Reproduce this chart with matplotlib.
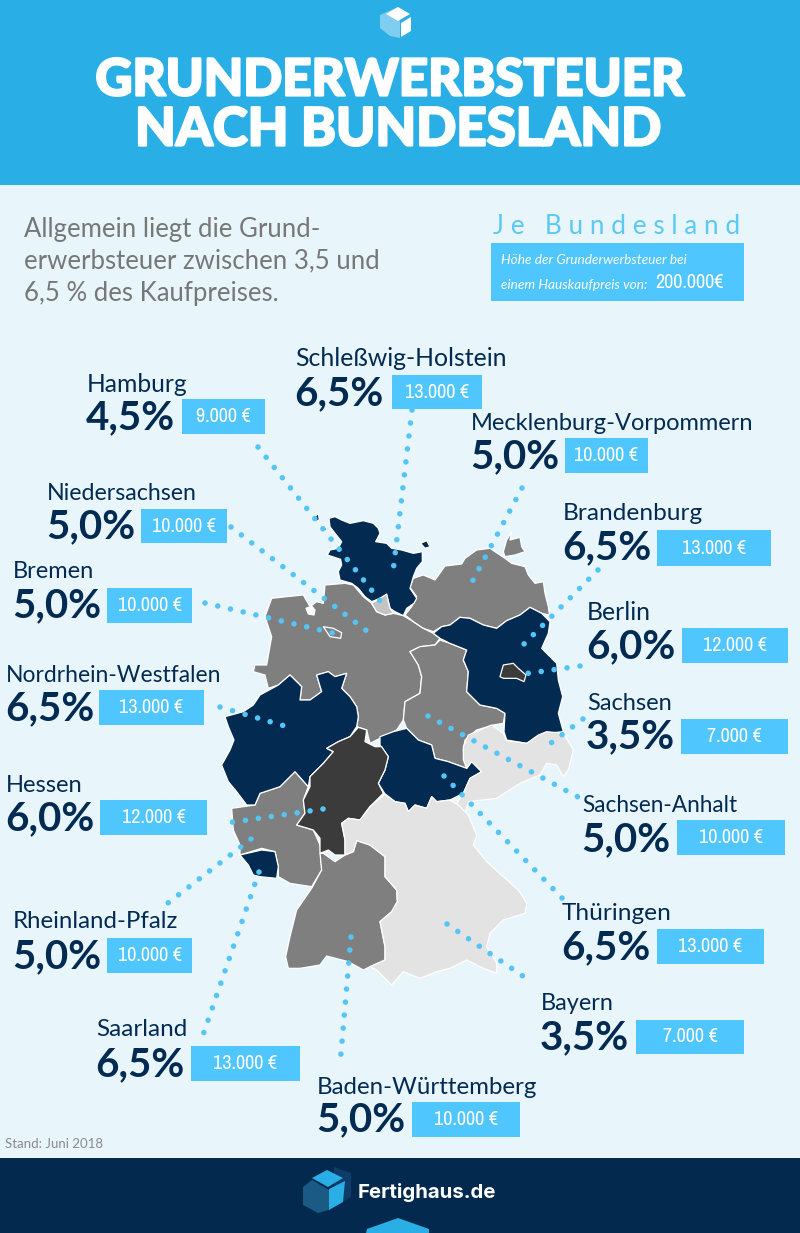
import matplotlib
matplotlib.use("Agg")
import matplotlib.pyplot as plt
import matplotlib.patheffects as pe
from matplotlib import font_manager
from matplotlib.patches import Polygon, Rectangle

plt.rcParams['font.family'] = ['Lato', 'DejaVu Sans']

NAVY = '#032b52'
GREY = '#7f7f7f'
DARK = '#3b3b3b'
LIGHT = '#e3e3e3'
BOX = '#4fc6fd'
DOT = '#55c5f7'

# a narrow face for the euro boxes, if there is one
narrow_names = sorted({f.name for f in font_manager.fontManager.ttflist
                       if 'Narrow' in f.name or 'Condensed' in f.name})
NARROW = narrow_names[0] if narrow_names else None
box_family = [NARROW, 'Lato'] if NARROW else ['Lato']
box_size = 14.5 if NARROW else 11.5

# values
states = ['Schleßwig-Holstein', 'Hamburg', 'Mecklenburg-Vorpommern', 'Niedersachsen',
          'Brandenburg', 'Bremen', 'Berlin', 'Nordrhein-Westfalen', 'Sachsen', 'Hessen',
          'Sachsen-Anhalt', 'Rheinland-Pfalz', 'Thüringen', 'Bayern', 'Saarland',
          'Baden-Württemberg']
rates = ['6,5%', '4,5%', '5,0%', '5,0%', '6,5%', '5,0%', '6,0%', '6,5%', '3,5%', '6,0%',
         '5,0%', '5,0%', '6,5%', '3,5%', '6,5%', '5,0%']
euros = ['13.000 €', '9.000 €', '10.000 €', '10.000 €', '13.000 €', '10.000 €', '12.000 €',
         '13.000 €', '7.000 €', '12.000 €', '10.000 €', '10.000 €', '13.000 €', '7.000 €',
         '13.000 €', '10.000 €']

# label layout: text x, name y, percent y, box left, box right, box top, box bottom
label_layout = [
    (295, 358, 392, 392, 482, 375, 409),
    (87, 384, 416, 182, 265, 399, 434),
    (471, 422, 455, 565, 648, 438, 473),
    (47, 492, 525, 141, 227, 509, 543),
    (563, 513, 546, 657, 771, 530, 566),
    (13, 571, 604, 107, 192, 588, 623),
    (587, 612, 645, 682, 788, 628, 663),
    (6, 675, 707, 99, 204, 690, 725),
    (587, 703, 735, 681, 788, 719, 754),
    (6, 785, 817, 100, 207, 800, 835),
    (582, 805, 838, 677, 785, 820, 855),
    (13, 921, 955, 107, 192, 938, 973),
    (562, 913, 946, 657, 764, 929, 964),
    (541, 1003, 1036, 636, 744, 1020, 1054),
    (96, 1029, 1063, 191, 300, 1046, 1081),
    (317, 1086, 1118, 412, 520, 1102, 1137),
]
# the original face runs a bit differently from Lato, so name widths are fitted one by one
name_sizes = [17.9, 17.7, 17.0, 16.7, 17.6, 17.0, 17.8, 16.5, 17.0, 17.1, 16.3, 17.3, 17.6,
              16.9, 17.5, 17.3]

# dotted leaders from the label to the state
leaders = [
    ((412, 410), (393, 572)), ((258, 447), (381, 602)), ((522, 488), (472, 582)),
    ((231, 527), (376, 638)), ((598, 570), (523, 645)), ((205, 603), (333, 633)),
    ((580, 666), (516, 675)), ((220, 707), (295, 729)), ((583, 719), (551, 743)),
    ((323, 809), (220, 824)), ((428, 716), (578, 797)), ((251, 839), (168, 903)),
    ((444, 776), (562, 898)), ((447, 924), (533, 983)), ((259, 872), (203, 1035)),
    ((351, 937), (340, 1065)),
]

# map outlines (3x coordinates, origin 210/500)
schleswig = [(357, 55), (375, 50), (395, 60), (420, 70), (460, 62), (490, 70), (505, 85), (510, 100),
             (497, 125), (530, 130), (545, 145), (575, 150), (610, 160), (637, 155), (637, 185),
             (620, 205), (610, 230), (600, 265), (620, 295), (612, 310), (590, 325), (580, 347),
             (555, 335), (540, 325), (530, 285), (510, 295), (485, 305), (465, 290), (445, 265),
             (425, 250), (390, 240), (385, 215), (395, 195), (392, 178), (352, 165),
             (360, 150), (385, 145), (395, 125), (375, 100), (360, 80)]
fehmarn = [(632, 130), (650, 122), (660, 140), (645, 145)]
sylt = [(315, 50), (325, 40), (328, 60), (315, 65)]
foehr = [(330, 80), (345, 78), (350, 92), (335, 92)]
mecklenburg = [(585, 345), (605, 320), (620, 290), (600, 262), (610, 235), (640, 225), (675, 240),
               (705, 198), (755, 192), (765, 175), (800, 150), (840, 145), (870, 165), (885, 175),
               (905, 190), (945, 200), (955, 225), (975, 250), (1000, 245), (1005, 280),
               (1015, 320), (1018, 345), (995, 340), (960, 322), (930, 345), (890, 362), (860, 385),
               (820, 375), (780, 355), (750, 352), (720, 375), (695, 380), (670, 395), (640, 385),
               (610, 365)]
ruegen = [(880, 155), (890, 120), (905, 95), (900, 120), (930, 112), (935, 140), (945, 155),
          (915, 165), (885, 170)]
brandenburg = [(670, 400), (695, 380), (720, 375), (750, 352), (780, 355), (820, 375), (860, 385),
               (890, 362), (930, 345), (960, 322), (995, 340), (1020, 365), (1015, 400), (995, 445),
               (1040, 490), (1045, 540), (1058, 590), (1045, 640), (1060, 695), (1010, 700),
               (985, 715), (950, 730), (890, 720), (882, 695), (885, 640), (860, 625), (810, 615),
               (770, 575), (775, 515), (760, 480), (770, 450), (720, 430), (690, 415)]
berlin = [(870, 530), (880, 495), (910, 490), (925, 505), (948, 525), (942, 545), (920, 535), (880, 535)]
hamburg = [(485, 310), (510, 295), (530, 282), (540, 325), (550, 340), (525, 345), (500, 335)]
bremen = [(340, 380), (370, 385), (395, 398), (392, 415), (360, 410)]
bremerhaven = [(288, 325), (305, 318), (315, 330), (312, 345), (295, 342)]
niedersachsen = [(345, 255), (405, 250), (430, 255), (460, 290), (485, 310), (500, 335), (525, 345),
                 (550, 340), (580, 347), (610, 365), (640, 385), (670, 400), (690, 415), (675, 435),
                 (630, 440), (600, 455), (625, 495), (635, 530), (630, 580), (585, 605), (580, 660),
                 (560, 690), (510, 715), (480, 730), (470, 690), (440, 680), (445, 650), (440, 620),
                 (420, 590), (395, 565), (410, 520), (375, 530), (355, 515), (320, 525), (335, 575),
                 (300, 600), (270, 600), (275, 560), (240, 525), (205, 555), (175, 565), (165, 525),
                 (130, 515), (135, 495), (170, 495), (185, 410), (165, 350), (185, 295), (230, 290),
                 (280, 285), (300, 320), (320, 305), (340, 310)]
sachsen_anhalt = [(690, 420), (720, 430), (770, 450), (760, 480), (775, 515), (770, 575), (810, 615),
                  (860, 625), (885, 640), (880, 670), (850, 675), (800, 690), (765, 720), (760, 750),
                  (770, 805), (715, 785), (675, 775), (665, 735), (625, 720), (590, 685), (580, 660),
                  (585, 605), (630, 580), (635, 530), (625, 495), (600, 455), (630, 440), (675, 435)]
thueringen = [(590, 685), (625, 720), (665, 735), (675, 775), (715, 785), (770, 805), (785, 785),
              (815, 815), (780, 835), (760, 880), (720, 900), (680, 905), (665, 890), (650, 925),
              (615, 915), (595, 935), (585, 910), (555, 905), (525, 882), (505, 850), (525, 810),
              (535, 770), (510, 735), (510, 710), (550, 695)]
sachsen = [(760, 740), (775, 705), (845, 675), (880, 700), (890, 722), (950, 730), (985, 705),
           (1010, 695), (1060, 700), (1090, 750), (1075, 810), (1060, 830), (1040, 795), (1010, 790),
           (990, 825), (930, 850), (860, 895), (775, 905), (765, 940), (740, 910), (760, 880),
           (780, 835), (815, 815), (785, 785), (770, 805), (760, 780)]
bayern = [(525, 882), (555, 905), (585, 910), (595, 935), (615, 915), (650, 925), (665, 890), (680, 905),
          (720, 900), (745, 915), (775, 945), (800, 1005), (790, 1035), (830, 1085), (880, 1130),
          (925, 1170), (950, 1210), (945, 1240), (880, 1260), (840, 1300), (830, 1340), (860, 1390),
          (860, 1420), (820, 1405), (770, 1380), (720, 1405), (680, 1415), (630, 1435), (580, 1415),
          (545, 1455), (500, 1410), (480, 1400), (525, 1380), (525, 1340), (510, 1265), (545, 1235),
          (562, 1205), (560, 1170), (525, 1130), (525, 1070), (480, 1035), (440, 1022), (430, 1055),
          (405, 1065), (405, 1020), (395, 970), (415, 955), (450, 960), (480, 920)]
baden = [(340, 1060), (375, 1085), (405, 1065), (430, 1055), (440, 1022), (480, 1035), (525, 1070),
         (525, 1130), (560, 1170), (562, 1205), (545, 1235), (510, 1265), (525, 1340), (525, 1380),
         (480, 1400), (460, 1410), (415, 1385), (350, 1368), (330, 1395), (270, 1405), (235, 1405),
         (227, 1370), (240, 1310), (260, 1230), (305, 1165), (335, 1110), (330, 1060)]
rheinland = [(65, 925), (135, 915), (150, 880), (210, 860), (255, 815), (295, 860), (280, 900), (285, 940),
             (260, 975), (310, 990), (330, 1035), (335, 1110), (305, 1160), (240, 1150), (205, 1130),
             (205, 1100), (195, 1055), (155, 1045), (90, 1065), (90, 1035), (70, 990)]
saarland = [(90, 1065), (155, 1050), (195, 1055), (205, 1100), (200, 1135), (150, 1130), (130, 1125), (115, 1095)]
hessen = [(445, 682), (470, 690), (465, 725), (495, 740), (515, 740), (535, 770), (525, 810), (505, 850),
          (520, 880), (480, 920), (450, 960), (415, 955), (395, 970), (405, 1020), (405, 1065),
          (375, 1065), (355, 1050), (330, 1060), (330, 1015), (310, 990), (260, 975), (285, 940),
          (280, 900), (300, 860), (300, 830), (340, 790), (370, 755), (350, 745), (385, 725), (420, 710)]
nrw = [(45, 650), (100, 635), (130, 615), (150, 585), (205, 555), (240, 525), (275, 560), (270, 600),
       (300, 600), (335, 575), (320, 525), (355, 515), (375, 530), (410, 520), (395, 565), (420, 590),
       (440, 620), (445, 650), (440, 680), (420, 710), (385, 725), (350, 745), (370, 755), (340, 790),
       (300, 830), (295, 860), (255, 815), (210, 860), (150, 880), (135, 915), (110, 915), (80, 875),
       (55, 845), (35, 795), (60, 750), (72, 720), (55, 680)]

map_shapes = [(niedersachsen, GREY), (mecklenburg, GREY), (ruegen, GREY), (sachsen_anhalt, GREY),
              (rheinland, GREY), (baden, GREY), (schleswig, NAVY), (fehmarn, NAVY), (sylt, NAVY),
              (foehr, NAVY), (brandenburg, NAVY), (nrw, NAVY), (thueringen, NAVY), (saarland, NAVY),
              (hessen, DARK), (berlin, DARK), (sachsen, LIGHT), (bayern, LIGHT), (hamburg, '#c4c4c4'),
              (bremen, GREY), (bremerhaven, 'white')]


def to_px(pts):
    return [(210 + x / 3, 500 + y / 3) for x, y in pts]


fig = plt.figure(figsize=(8, 12.33), dpi=100, facecolor='#e8f6fc')
ax = fig.add_axes([0, 0, 1, 1])
ax.set_xlim(0, 800)
ax.set_ylim(1233, 0)
ax.axis('off')

# header and footer bands
ax.add_patch(Rectangle((0, 0), 800, 185, color='#29aee6', lw=0))
ax.add_patch(Rectangle((0, 1158), 800, 75, color='#03294f', lw=0))

# top logo
ax.add_patch(Polygon([(380, 15), (398, 7), (400, 22), (400, 38), (390, 36), (380, 28)],
                     color='#7fcdf0', lw=0))
ax.add_patch(Polygon([(398, 7), (410, 14), (398, 21), (386, 14)], color='white', lw=0))
ax.add_patch(Polygon([(401, 23), (411, 17), (411, 31), (401, 37)], color='white', lw=0))

# title, stroked a little as the original face is heavier than Lato Bold
heavy = [pe.withStroke(linewidth=1.6, foreground='white')]
ax.text(390, 81, 'GRUNDERWERBSTEUER', color='white', fontsize=36.8, fontweight='black',
        ha='center', va='center', path_effects=heavy)
ax.text(398, 130, 'NACH BUNDESLAND', color='white', fontsize=38, fontweight='black',
        ha='center', va='center', path_effects=heavy)

# intro
intro = ['Allgemein liegt die Grund-', 'erwerbsteuer zwischen 3,5 und', '6,5 % des Kaufpreises.']
for line, y in zip(intro, [229, 261, 293]):
    ax.text(24, y, line, color='#777777', fontsize=18.5, va='center')

ax.text(493, 227, 'J e   B u n d e s l a n d', color='#5cc8f5', fontsize=18.8, va='center')
ax.add_patch(Rectangle((491, 243), 253, 58, color=BOX, lw=0))
ax.text(501, 260, 'Höhe der Grunderwerbsteuer bei', color='white', fontsize=9.8, style='italic',
        va='center')
ax.text(501, 285, 'einem Hauskaufpreis von:', color='white', fontsize=9.8, style='italic',
        va='center')
ax.text(655, 283, '200.000€', color='white', fontsize=box_size, family=box_family, va='center')

# map
for pts, colour in map_shapes:
    ax.add_patch(Polygon(to_px(pts), closed=True, facecolor=colour, edgecolor='white', lw=0.9,
                         joinstyle='round'))

# dotted leaders
for start, end in leaders:
    ax.plot([start[0], end[0]], [start[1], end[1]], color=DOT, lw=4,
            linestyle=(0, (0.01, 2.34)), dash_capstyle='round')

# labels
for name, rate, euro, lay, name_size in zip(states, rates, euros, label_layout, name_sizes):
    x, name_y, rate_y, left, right, top, bottom = lay
    ax.text(x, name_y + 1, name, color=NAVY, fontsize=name_size, va='center')
    ax.text(x - 1, rate_y + 2, rate, color=NAVY, fontsize=29, fontweight='bold', va='center')
    ax.add_patch(Rectangle((left, top), right - left, bottom - top, color=BOX, lw=0))
    ax.text((left + right) / 2, (top + bottom) / 2, euro, color='white', fontsize=box_size,
            family=box_family, ha='center', va='center')

ax.text(5, 1144, 'Stand: Juni 2018', color='#8a8a8a', fontsize=9.5, va='center')

# footer logo
ax.add_patch(Polygon([(334, 1167), (351, 1173), (351, 1197), (334, 1207)], color='#0d3d68', lw=0))
ax.add_patch(Polygon([(303, 1187), (312, 1180), (329, 1190), (329, 1210), (318, 1213), (303, 1205)],
                     color='#1a5a85', lw=0))
ax.add_patch(Polygon([(327, 1170), (343, 1178), (328, 1187), (312, 1178)], color='#29aee6', lw=0))
ax.add_patch(Polygon([(329, 1189), (345, 1181), (343, 1202), (329, 1210)], color='#29aee6', lw=0))
ax.text(358, 1192, 'Fertighaus.de', color='white', fontsize=14.7, fontweight='bold',
        family=['Inter', 'DejaVu Sans'], va='center')
ax.add_patch(Polygon([(366, 1233), (367, 1229), (398, 1218), (429, 1229), (429, 1233)],
                     color='#29aee6', lw=0))

fig.savefig('out.png', dpi=100, facecolor=fig.get_facecolor())
